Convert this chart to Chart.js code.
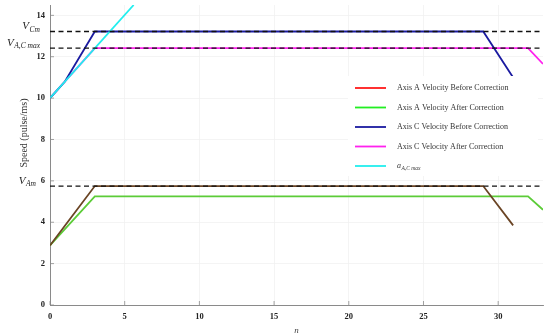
<!DOCTYPE html>
<html>
<head>
<meta charset="utf-8">
<script src="https://cdn.jsdelivr.net/npm/chart.js@4.4.1/dist/chart.umd.min.js"></script>
<style>
html,body{margin:0;padding:0;background:#fff;}
#wrap{width:550px;height:336px;position:relative;}
</style>
</head>
<body>
<div id="wrap"><canvas id="c" width="550" height="336"></canvas></div>
<script>
// ---- data ----
const nABefore = [0, 3, 29, 31];
const vABefore = [2.88, 5.75, 5.75, 3.85];
const nAAfter = [0, 3, 32, 33];
const vAAfter = [2.88, 5.25, 5.25, 4.6];
const nCBefore = [0, 1, 3, 29, 31];
const vCBefore = [10.0, 10.8, 13.22, 13.22, 11.0];
const nCAfter = [0, 3, 32, 33];
const vCAfter = [10.0, 12.42, 12.42, 11.65];
const nAccel = [0, 5.6];
const vAccel = [10.0, 14.5];
const refNames = ['Cm', 'A,C max', 'Am'];
const refLevels = [13.22, 12.42, 5.75];
const refSpan = [0, 33];
const xTicks = [0, 5, 10, 15, 20, 25, 30];
const yTicks = [0, 2, 4, 6, 8, 10, 12, 14];
const seriesLabels = ['Axis A Velocity Before Correction','Axis A Velocity After Correction','Axis C Velocity Before Correction','Axis C Velocity After Correction'];

const pts = (xs, ys) => xs.map((x, i) => ({x: x, y: ys[i]}));
const SERIF = '"Liberation Serif", "DejaVu Serif", serif';

const datasets = [
  {label: seriesLabels[0], data: pts(nABefore, vABefore), borderColor: '#6a4424', legendColor: '#ff1a1a', order: 3},
  {label: seriesLabels[1], data: pts(nAAfter, vAAfter), borderColor: '#5ccc38', legendColor: '#22ee22', order: 4},
  {label: seriesLabels[2], data: pts(nCBefore, vCBefore), borderColor: '#1a1aa0', legendColor: '#1a1aa0', order: 3},
  {label: seriesLabels[3], data: pts(nCAfter, vCAfter), borderColor: '#ff22ee', legendColor: '#ff22ee', order: 4},
  {label: 'a', sub: 'A,C max', data: pts(nAccel, vAccel), borderColor: '#22eeee', legendColor: '#22eeee', order: 2},
];
datasets.forEach(d => { d.borderWidth = 1.8; d.pointRadius = 0; d.fill = false; d.tension = 0; d.showLine = true; });
refLevels.forEach((lv, i) => {
  datasets.push({label: 'ref' + i, isRef: true, data: pts(refSpan, [lv, lv]), borderColor: '#111', borderWidth: 1.3,
    borderDash: [5, 3.5], pointRadius: 0, showLine: true, order: 0});
});

function drawSub(ctx, x, y, main, sub, mSize, sSize, align) {
  ctx.font = 'italic ' + mSize + 'px ' + SERIF;
  const wm = ctx.measureText(main).width;
  ctx.font = 'italic ' + sSize + 'px ' + SERIF;
  const ws = ctx.measureText(sub).width;
  let x0 = align === 'right' ? x - wm - ws - 0.5 : x;
  ctx.textAlign = 'left';
  ctx.textBaseline = 'middle';
  ctx.font = 'italic ' + mSize + 'px ' + SERIF;
  ctx.fillText(main, x0, y);
  ctx.font = 'italic ' + sSize + 'px ' + SERIF;
  ctx.fillText(sub, x0 + wm + 0.5, y + mSize * 0.28);
}

const deco = {
  id: 'deco',
  afterDraw(chart) {
    const ctx = chart.ctx, xs = chart.scales.x, ys = chart.scales.y, ca = chart.chartArea;
    ctx.save();
    // inward tick marks
    ctx.strokeStyle = '#8a8a8a'; ctx.lineWidth = 0.8;
    xTicks.forEach(t => { const px = xs.getPixelForValue(t); ctx.beginPath(); ctx.moveTo(px, ca.bottom); ctx.lineTo(px, ca.bottom - 4); ctx.stroke(); });
    yTicks.forEach(t => { const py = ys.getPixelForValue(t); ctx.beginPath(); ctx.moveTo(ca.left, py); ctx.lineTo(ca.left + 4, py); ctx.stroke(); });
    // reference level labels
    ctx.fillStyle = '#222';
    const rx = [40, 40, 36];
    refLevels.forEach((lv, i) => {
      drawSub(ctx, rx[i], ys.getPixelForValue(lv) - 5, 'V', refNames[i], 11, 7.5, 'right');
    });
    // y title
    ctx.save();
    ctx.translate(24, 133);
    ctx.rotate(-Math.PI / 2);
    ctx.font = '10px ' + SERIF; ctx.textAlign = 'center'; ctx.textBaseline = 'middle';
    ctx.fillStyle = '#333';
    ctx.fillText('Speed (pulse/ms)', 0, 0);
    ctx.restore();
    // legend
    ctx.fillStyle = '#fff';
    ctx.fillRect(348, 76, 190, 100);
    const rows = [88, 107.5, 127, 146.5, 166];
    datasets.filter(d => !d.isRef).forEach((d, i) => {
      const y = rows[i];
      ctx.strokeStyle = d.legendColor; ctx.lineWidth = 1.8; ctx.setLineDash([]);
      ctx.beginPath(); ctx.moveTo(355, y); ctx.lineTo(386, y); ctx.stroke();
      ctx.fillStyle = '#333';
      if (d.sub) {
        drawSub(ctx, 397, y, d.label, d.sub, 8, 5.5, 'left');
      } else {
        ctx.font = '8px ' + SERIF; ctx.textAlign = 'left'; ctx.textBaseline = 'middle';
        ctx.fillText(d.label, 397, y);
      }
    });
    ctx.restore();
  }
};

new Chart(document.getElementById('c'), {
  type: 'scatter',
  data: {datasets: datasets},
  options: {
    responsive: false,
    animation: false,
    layout: {padding: {top: 5, right: 7, left: 0, bottom: 0}},
    plugins: {legend: {display: false}, tooltip: {enabled: false}},
    scales: {
      x: {
        type: 'linear', min: 0, max: 33,
        afterBuildTicks: s => { s.ticks = xTicks.map(v => ({value: v})); },
        afterFit: s => { s.height = 31; s.paddingLeft = 0; s.paddingRight = 0; },
        grid: {color: '#f1f1f1', lineWidth: 0.8, drawTicks: false},
        border: {color: '#8a8a8a', width: 1},
        ticks: {padding: 7, color: '#222', font: {family: SERIF, size: 8.5, weight: 'bold'}, maxRotation: 0},
        title: {display: true, text: 'n', color: '#444', padding: {top: 0, bottom: 0}, font: {family: SERIF, size: 9, style: 'italic'}}
      },
      y: {
        type: 'linear', min: 0, max: 14.5,
        afterBuildTicks: s => { s.ticks = yTicks.map(v => ({value: v})); },
        afterFit: s => { s.width = 50; s.paddingTop = 0; s.paddingBottom = 0; },
        grid: {color: '#f1f1f1', lineWidth: 0.8, drawTicks: false},
        border: {color: '#8a8a8a', width: 1},
        ticks: {padding: 5, color: '#222', font: {family: SERIF, size: 8.5, weight: 'bold'}}
      }
    }
  },
  plugins: [deco]
});
</script>
</body>
</html>
